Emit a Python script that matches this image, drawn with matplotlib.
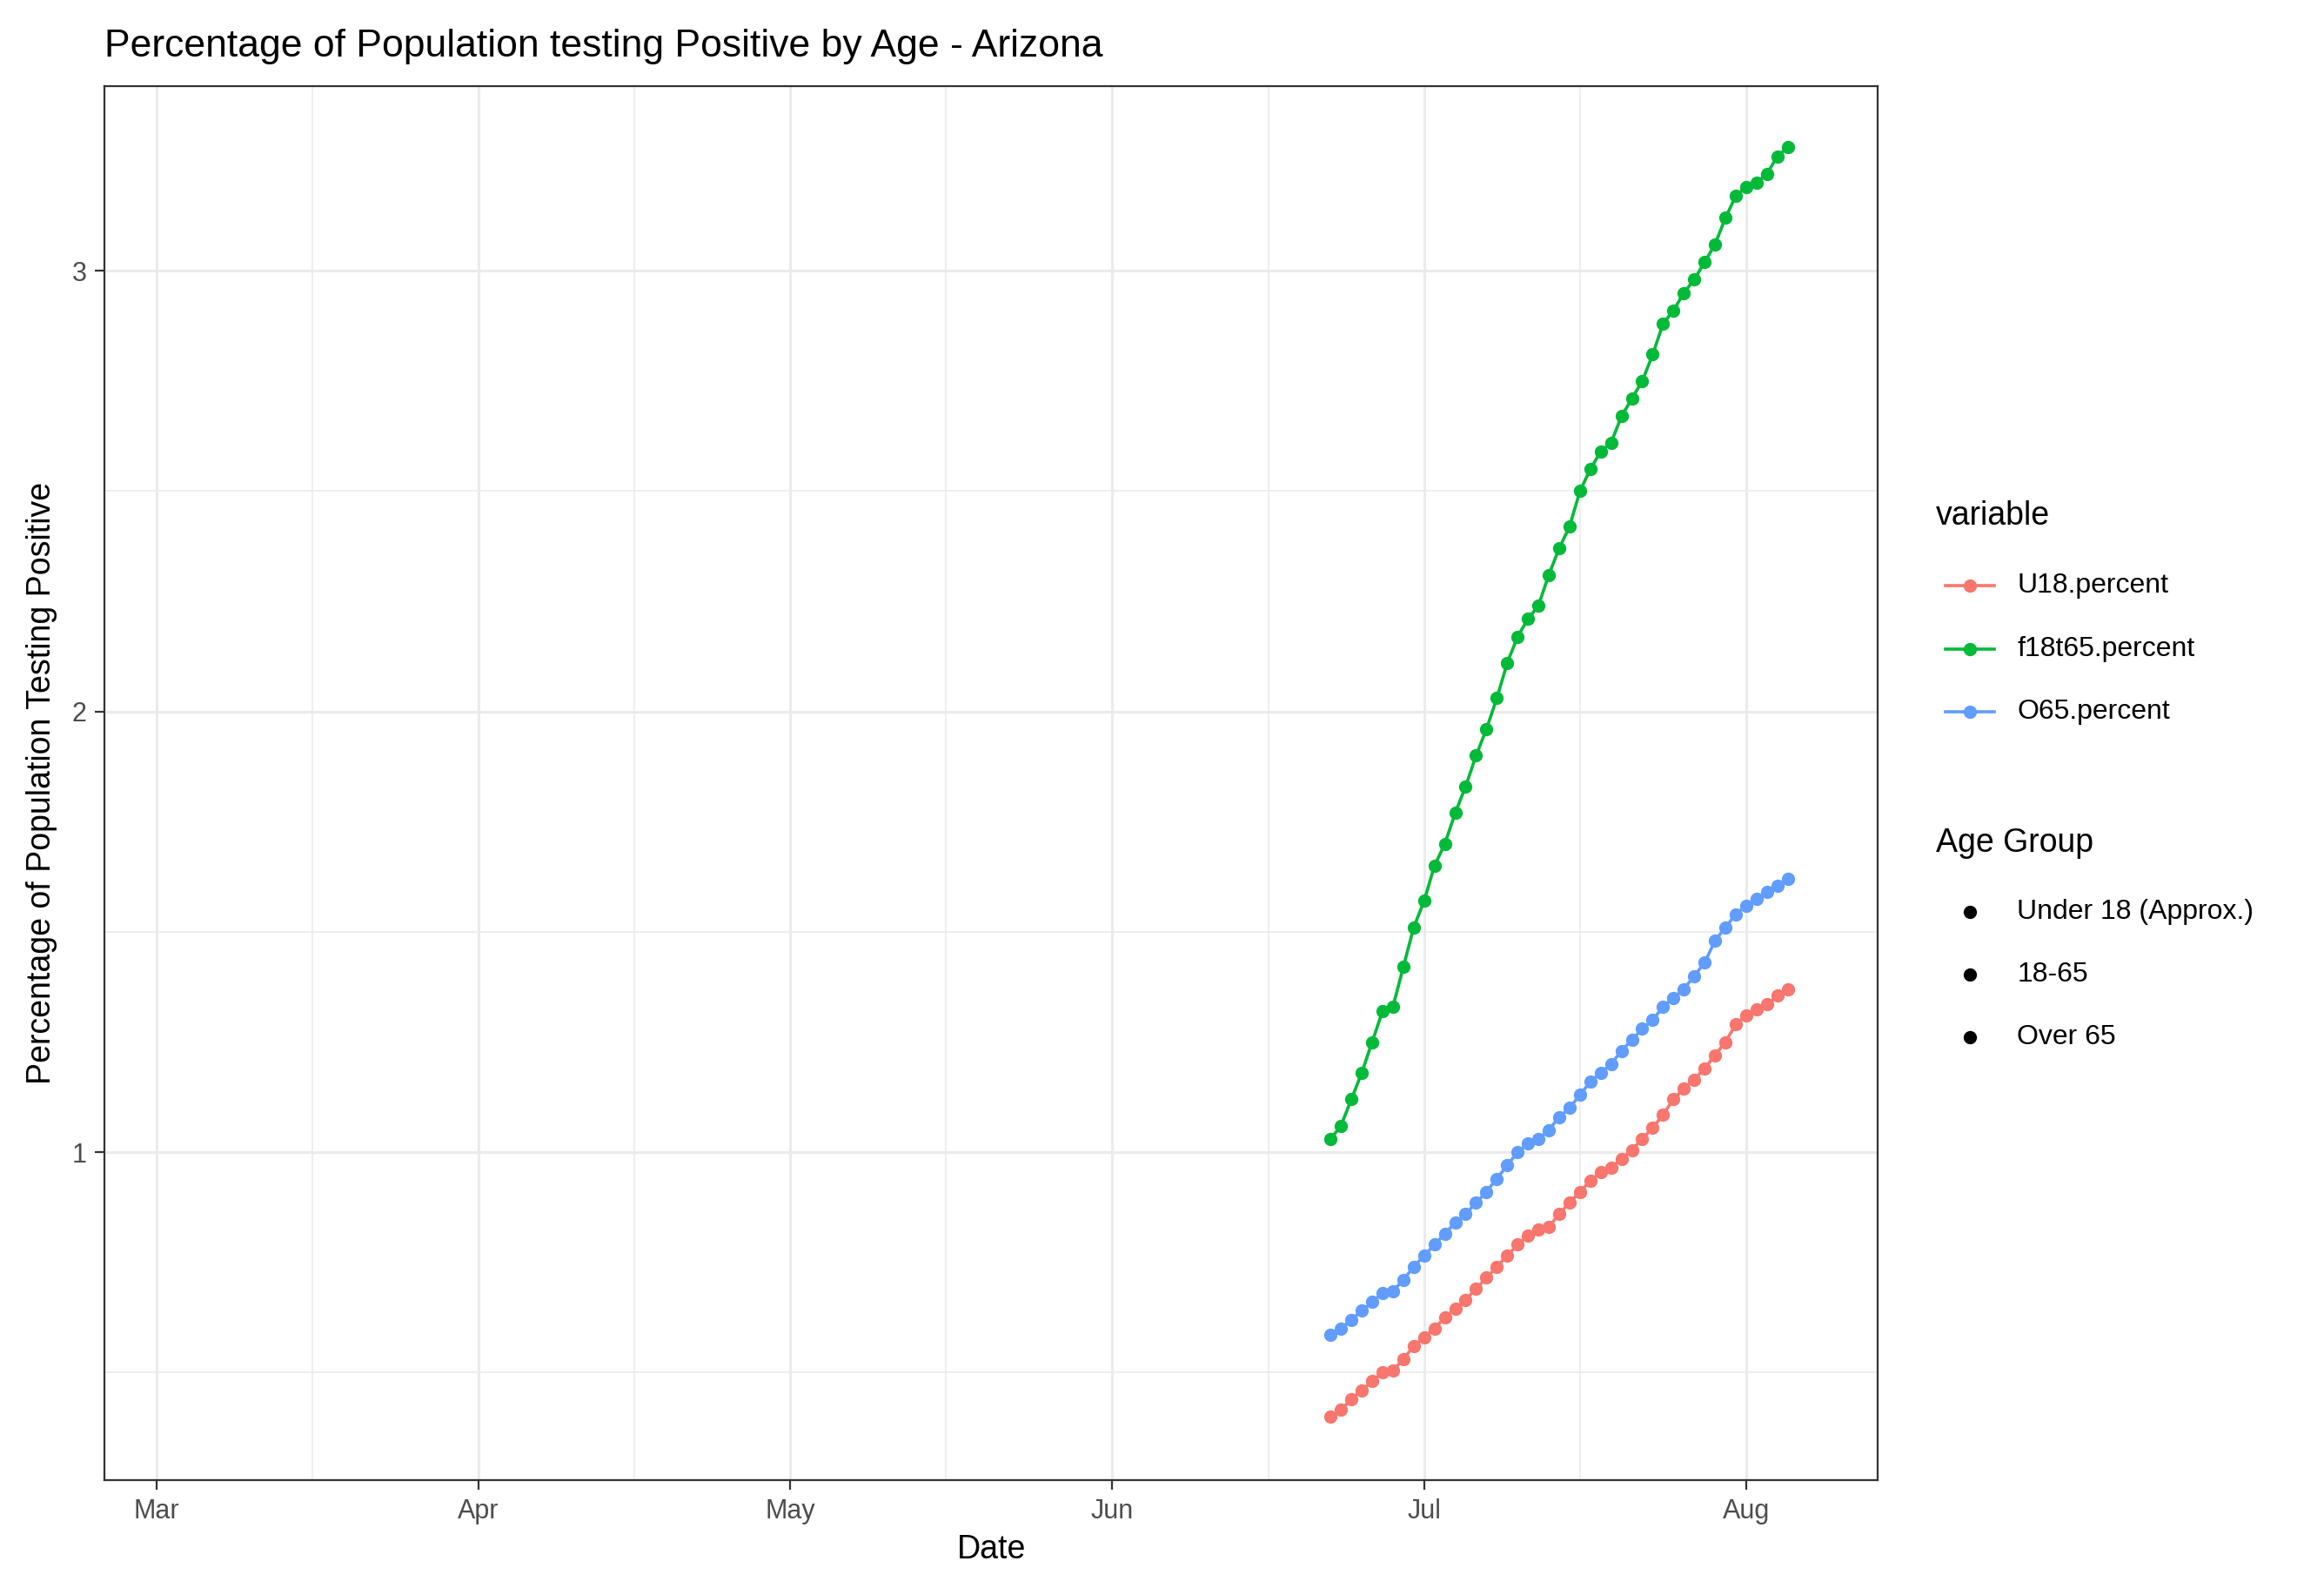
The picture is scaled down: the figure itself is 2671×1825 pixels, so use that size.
import matplotlib
matplotlib.use("Agg")
import matplotlib.pyplot as plt
import matplotlib.dates as mdates
from matplotlib.lines import Line2D
import numpy as np

dates = np.arange(np.datetime64("2020-06-22"), np.datetime64("2020-08-06"))

u18 = [0.40, 0.415, 0.44, 0.46, 0.48, 0.50, 0.505, 0.53, 0.56,
       0.58, 0.60, 0.625, 0.645, 0.665, 0.69, 0.715, 0.74, 0.765, 0.79, 0.81,
       0.825, 0.83, 0.86, 0.885, 0.91, 0.935, 0.955, 0.965, 0.985, 1.005,
       1.03, 1.055, 1.085, 1.12, 1.145, 1.165, 1.19, 1.22, 1.25, 1.29,
       1.31, 1.325, 1.335, 1.355, 1.37]
f18t65 = [1.03, 1.06, 1.12, 1.18, 1.25, 1.32, 1.33, 1.42, 1.51, 1.57,
          1.65, 1.70, 1.77, 1.83, 1.90, 1.96, 2.03, 2.11, 2.17, 2.21,
          2.24, 2.31, 2.37, 2.42, 2.50, 2.55, 2.59, 2.61, 2.67, 2.71,
          2.75, 2.81, 2.88, 2.91, 2.95, 2.98, 3.02, 3.06, 3.12, 3.17,
          3.19, 3.20, 3.22, 3.26, 3.28]
o65 = [0.585, 0.60, 0.62, 0.64, 0.66, 0.68, 0.685, 0.71, 0.74,
       0.765, 0.79, 0.815, 0.84, 0.86, 0.885, 0.91, 0.94, 0.97, 1.00, 1.02,
       1.03, 1.05, 1.08, 1.10, 1.13, 1.16, 1.18, 1.20, 1.23, 1.255,
       1.28, 1.30, 1.33, 1.35, 1.37, 1.40, 1.43, 1.48, 1.51, 1.54,
       1.56, 1.575, 1.59, 1.605, 1.62]

series = [("U18.percent", u18, "#F8766D"),
          ("f18t65.percent", f18t65, "#00BA38"),
          ("O65.percent", o65, "#619CFF")]
age_groups = ["Under 18 (Approx.)", "18-65", "Over 65"]

plt.rcParams['font.family'] = ['Liberation Sans', 'DejaVu Sans']
fig = plt.figure(figsize=(13.355, 9.125), dpi=200)
ax = fig.add_axes([0.045, 0.068, 0.763, 0.878])

for name, vals, col in series:
    ax.plot(dates, vals, color=col, lw=1.3, marker='o', ms=4.5, zorder=3)

ax.set_xlim(np.datetime64("2020-02-25"), np.datetime64("2020-08-13T16"))
ax.set_ylim(0.256, 3.42)
ax.set_yticks([1, 2, 3])
ax.set_yticks([0.5, 1.5, 2.5], minor=True)
ax.xaxis.set_major_locator(mdates.MonthLocator(bymonth=range(3, 9)))
ax.xaxis.set_major_formatter(mdates.DateFormatter("%b"))
ax.set_xticks([mdates.date2num(np.datetime64(d)) for d in
               ["2020-03-16", "2020-04-16", "2020-05-16", "2020-06-16", "2020-07-16"]], minor=True)
ax.grid(which='major', color='#EBEBEB', lw=1.1)
ax.grid(which='minor', color='#EBEBEB', lw=0.6)
ax.set_axisbelow(True)
ax.tick_params(which='minor', length=0)
ax.tick_params(which='major', length=4, color='#333333', labelsize=11, labelcolor='#4D4D4D')
for s in ax.spines.values():
    s.set_color('#333333')
ax.set_xlabel("Date", fontsize=13.5, labelpad=4)
ax.set_ylabel("Percentage of Population Testing Positive", fontsize=13.5, labelpad=6)
ax.set_title("Percentage of Population testing Positive by Age - Arizona",
             fontsize=16, loc='left', x=0.0, pad=12)

# legends
fig.text(0.833, 0.675, "variable", fontsize=13.5, va='center')
for i, (name, vals, col) in enumerate(series):
    y = 0.631 - i * 0.0395
    fig.add_artist(Line2D([0.837, 0.858], [y, y], color=col, lw=1.3,
                          transform=fig.transFigure))
    fig.add_artist(Line2D([0.8475], [y], color=col, marker='o', ms=4.5,
                          transform=fig.transFigure))
    fig.text(0.868, y, name, fontsize=11.5, va='center')

fig.text(0.833, 0.469, "Age Group", fontsize=13.5, va='center')
for i, lab in enumerate(age_groups):
    y = 0.426 - i * 0.0395
    fig.add_artist(Line2D([0.8475], [y], color='black', marker='o', ms=4.5,
                          transform=fig.transFigure))
    fig.text(0.868, y, lab, fontsize=11.5, va='center')

fig.savefig("out.png", dpi=200)
